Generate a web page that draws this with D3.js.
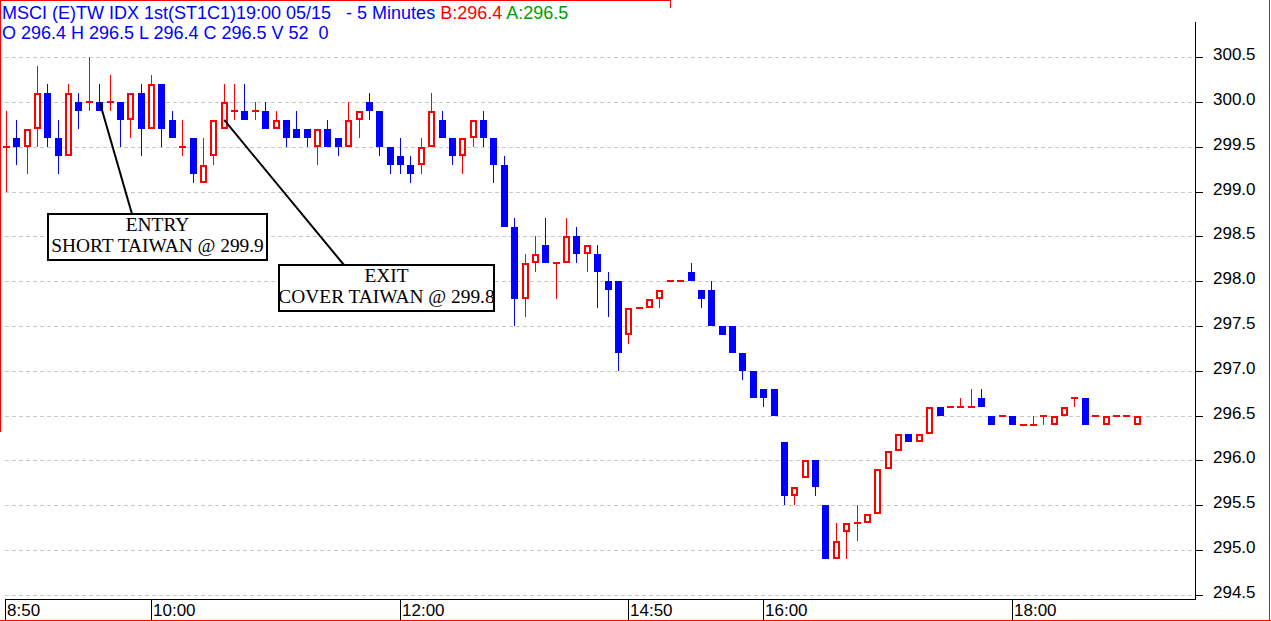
<!DOCTYPE html>
<html><head><meta charset="utf-8">
<script src="https://cdn.jsdelivr.net/npm/d3@7"></script>
<style>html,body{margin:0;padding:0;background:#fff;overflow:hidden}</style>
</head><body>
<svg id="c" width="1271" height="622"></svg>
<script>
// ---- data (5-minute bars, index 0 = 8:50) ----
const opens  = [299.5,299.6,299.5,299.7,300.1,299.6,299.4,300.0,300.0,300.0,300.0,300.0,299.8,300.1,299.7,300.2,299.8,299.5,299.6,299.1,299.4,299.7,299.9,299.9,299.9,299.9,299.7,299.8,299.7,299.7,299.5,299.7,299.6,299.5,299.8,300.0,299.9,299.5,299.4,299.3,299.3,299.5,299.8,299.6,299.4,299.6,299.8,299.6,299.3,298.6,297.8,298.2,298.4,298.2,298.2,298.5,298.3,298.3,298.0,298.0,297.4,297.7,297.7,297.8,298.0,298.0,298.1,297.9,297.9,297.5,297.5,297.2,297.0,296.8,296.8,296.2,295.6,295.8,296.0,295.5,294.9,295.2,295.3,295.3,295.4,295.9,296.1,296.3,296.2,296.3,296.6,296.6,296.6,296.6,296.7,296.5,296.5,296.5,296.4,296.4,296.5,296.4,296.5,296.7,296.7,296.5,296.4,296.5,296.5,296.4];
const highs  = [299.9,299.8,299.7,300.4,300.2,299.8,300.2,300.1,300.5,300.2,300.3,300.0,300.1,300.2,300.3,300.2,299.9,299.8,299.6,299.6,299.8,300.2,300.2,300.2,300.0,300.0,299.9,299.8,299.9,299.7,299.7,299.8,299.6,300.0,299.9,300.1,299.9,299.5,299.6,299.4,299.6,300.1,299.9,299.6,299.6,299.8,299.9,299.6,299.4,298.7,298.3,298.5,298.7,298.2,298.7,298.6,298.4,298.4,298.1,298.0,297.7,297.7,297.8,297.9,298.0,298.0,298.2,297.9,298.0,297.5,297.5,297.2,297.0,296.8,296.8,296.2,295.7,296.0,296.0,295.5,295.3,295.3,295.5,295.4,295.9,296.1,296.3,296.3,296.3,296.6,296.6,296.6,296.7,296.8,296.8,296.5,296.5,296.5,296.4,296.5,296.5,296.5,296.6,296.7,296.7,296.5,296.5,296.5,296.5,296.5];
const lows   = [299.0,299.3,299.2,299.5,299.5,299.2,299.4,299.7,299.9,299.9,299.9,299.5,299.6,299.4,299.7,299.5,299.6,299.4,299.1,299.1,299.3,299.7,299.8,299.8,299.8,299.7,299.7,299.5,299.6,299.5,299.3,299.5,299.4,299.5,299.6,299.8,299.4,299.2,299.2,299.1,299.2,299.5,299.6,299.3,299.2,299.5,299.5,299.1,298.6,297.5,297.6,298.1,298.2,297.8,298.2,298.2,298.1,297.7,297.6,297.0,297.3,297.7,297.7,297.7,298.0,298.0,298.0,297.7,297.5,297.4,297.2,296.9,296.7,296.6,296.5,295.5,295.5,295.8,295.6,294.9,294.9,294.9,295.1,295.3,295.4,295.9,296.1,296.2,296.2,296.3,296.5,296.6,296.6,296.6,296.6,296.4,296.5,296.4,296.4,296.4,296.4,296.4,296.5,296.6,296.4,296.5,296.4,296.5,296.5,296.4];
const closes = [299.5,299.5,299.7,300.1,299.6,299.4,300.1,299.9,300.0,299.9,300.0,299.8,300.1,299.7,300.2,299.7,299.6,299.5,299.2,299.3,299.8,300.0,299.9,299.8,299.9,299.7,299.8,299.6,299.6,299.6,299.7,299.5,299.5,299.8,299.9,299.9,299.5,299.3,299.3,299.2,299.5,299.9,299.6,299.4,299.6,299.8,299.6,299.3,298.6,297.8,298.2,298.3,298.2,298.2,298.5,298.3,298.4,298.1,297.9,297.2,297.7,297.7,297.8,297.9,298.0,298.0,298.0,297.8,297.5,297.4,297.2,297.0,296.7,296.7,296.5,295.6,295.7,296.0,295.7,294.9,295.1,295.3,295.3,295.4,295.9,296.1,296.3,296.2,296.3,296.6,296.5,296.6,296.6,296.6,296.6,296.4,296.5,296.4,296.4,296.4,296.5,296.5,296.6,296.7,296.4,296.5,296.5,296.5,296.5,296.5];
const yTickValues = [294.5,295.0,295.5,296.0,296.5,297.0,297.5,298.0,298.5,299.0,299.5,300.0,300.5];
const xTickIndex  = [0, 14, 38, 60, 73, 97];
const xTickLabels = ["8:50","10:00","12:00","14:50","16:00","18:00"];
const titleMain = "MSCI (E)TW IDX 1st(ST1C1)19:00 05/15   - 5 Minutes ";
const titleBid = "B:296.4";
const titleAsk = "A:296.5";
const titleOHLC = "O 296.4 H 296.5 L 296.4 C 296.5 V 52  0";
const entryNote = {idx: 9, price: 300.0, lines: ["ENTRY", "SHORT TAIWAN @ 299.9"]};
const exitNote  = {idx: 21, price: 299.8, lines: ["EXIT", "COVER TAIWAN @ 299.8"]};

// ---- drawing ----
const svg = d3.select('#c');
const W = 1271, H = 622;
const RED = '#ff0000', BLUE = '#0000ff';
const x = d3.scaleLinear().domain([0, 109]).range([6.3, 1137.2]);
const y = d3.scaleLinear().domain([294.5, 300.5]).range([594.8, 57.2]);
const ry = v => Math.round(y(v));
const axisX = 1195, bottomY = 600;

svg.append('rect').attr('width', W).attr('height', H).attr('fill', '#fff');

// gridlines
svg.append('g').selectAll('line').data(yTickValues).join('line')
  .attr('x1', 5).attr('x2', axisX)
  .attr('y1', d => ry(d) + 0.5).attr('y2', d => ry(d) + 0.5)
  .attr('stroke', '#c8c8c8').attr('stroke-dasharray', '4,3')
  .attr('shape-rendering', 'crispEdges');

// y axis
const yAxis = d3.axisRight(y).tickValues(yTickValues).tickSize(8).tickPadding(10)
  .tickFormat(d3.format('.1f'));
const ga = svg.append('g').attr('transform', `translate(${axisX},0)`).call(yAxis);
ga.select('.domain').remove();
ga.selectAll('.tick').attr('transform', d => `translate(0,${ry(d) + 0.5})`);
ga.selectAll('.tick line').attr('stroke', '#000').attr('shape-rendering', 'crispEdges');
ga.selectAll('.tick text').attr('font-family', 'Liberation Sans, Arial, sans-serif')
  .attr('font-size', 17).attr('fill', '#000').attr('dy', '0.15em');
svg.append('line').attr('x1', axisX + 0.5).attr('x2', axisX + 0.5).attr('y1', 22).attr('y2', bottomY)
  .attr('stroke', '#000').attr('shape-rendering', 'crispEdges');
svg.append('line').attr('x1', 5).attr('x2', axisX + 1).attr('y1', bottomY - 0.5).attr('y2', bottomY - 0.5)
  .attr('stroke', '#000').attr('shape-rendering', 'crispEdges');

// x axis separators + labels
const gx = svg.append('g');
gx.selectAll('line').data(xTickIndex).join('line')
  .attr('x1', d => Math.round(x(d)) - 0.5).attr('x2', d => Math.round(x(d)) - 0.5)
  .attr('y1', bottomY).attr('y2', 620)
  .attr('stroke', '#000').attr('shape-rendering', 'crispEdges');
gx.selectAll('text').data(xTickIndex).join('text')
  .attr('x', d => Math.round(x(d)) + 1).attr('y', 616)
  .attr('font-family', 'Liberation Sans, Arial, sans-serif').attr('font-size', 17)
  .attr('fill', '#000').text((d, i) => xTickLabels[i]);

// candles
const bars = opens.map((o, i) => ({i, o, h: highs[i], l: lows[i], c: closes[i]}));
const gc = svg.append('g').attr('shape-rendering', 'crispEdges');
bars.forEach(b => {
  const left = Math.round(x(b.i) - 3.5);
  const cx = left + 3.5;
  const col = b.c < b.o ? BLUE : RED;
  if (b.h !== b.l) {
    gc.append('line').attr('x1', cx).attr('x2', cx).attr('y1', ry(b.h)).attr('y2', ry(b.l))
      .attr('stroke', col).attr('stroke-width', 1);
  }
  if (b.c > b.o) {
    gc.append('rect').attr('x', left + 1).attr('width', 5)
      .attr('y', ry(b.c) + 1).attr('height', Math.max(0, ry(b.o) - ry(b.c) - 2))
      .attr('fill', '#fff').attr('stroke', RED).attr('stroke-width', 2);
  } else if (b.c < b.o) {
    gc.append('rect').attr('x', left).attr('width', 7)
      .attr('y', ry(b.o)).attr('height', ry(b.c) - ry(b.o)).attr('fill', BLUE);
  } else {
    gc.append('line').attr('x1', left).attr('x2', left + 7)
      .attr('y1', ry(b.o)).attr('y2', ry(b.o)).attr('stroke', RED).attr('stroke-width', 2);
  }
});

// annotations
function note(n, box, lineEnd) {
  svg.append('line').attr('x1', x(n.idx)).attr('y1', y(n.price))
    .attr('x2', lineEnd[0]).attr('y2', lineEnd[1])
    .attr('stroke', '#000').attr('stroke-width', 2);
  svg.append('rect').attr('x', box[0]).attr('y', box[1]).attr('width', box[2]).attr('height', box[3])
    .attr('fill', '#fff').attr('stroke', '#000').attr('stroke-width', 2);
  svg.append('text').attr('x', box[0] + box[2] / 2).attr('y', box[1] + 17)
    .attr('text-anchor', 'middle').attr('font-family', 'Liberation Serif, Times New Roman, serif')
    .attr('font-size', 19.4).attr('fill', '#000').text(n.lines[0]);
  svg.append('text').attr('x', box[0] + box[2] / 2).attr('y', box[1] + 38)
    .attr('text-anchor', 'middle').attr('font-family', 'Liberation Serif, Times New Roman, serif')
    .attr('font-size', 19.4).attr('fill', '#000').text(n.lines[1]);
}
note(entryNote, [48, 214, 219, 46], [132, 214]);
note(exitNote, [279, 265, 215, 46], [344, 265]);

// title
const t1 = svg.append('text').attr('x', 2).attr('y', 19)
  .attr('font-family', 'Liberation Sans, Arial, sans-serif').attr('font-size', 18)
  .style('white-space', 'pre');
t1.append('tspan').attr('fill', BLUE).text(titleMain);
t1.append('tspan').attr('fill', RED).text(titleBid);
t1.append('tspan').attr('fill', BLUE).text(' ');
t1.append('tspan').attr('fill', '#00a000').text(titleAsk);
svg.append('text').attr('x', 2).attr('y', 39)
  .attr('font-family', 'Liberation Sans, Arial, sans-serif').attr('font-size', 18)
  .style('white-space', 'pre').attr('fill', BLUE).text(titleOHLC);

// red frame
const fr = svg.append('g').attr('stroke', RED).attr('shape-rendering', 'crispEdges');
fr.append('line').attr('x1', 0).attr('x2', 671).attr('y1', 0.5).attr('y2', 0.5);
fr.append('line').attr('x1', 670.5).attr('x2', 670.5).attr('y1', 0).attr('y2', 8);
fr.append('line').attr('x1', 0.5).attr('x2', 0.5).attr('y1', 0).attr('y2', 432);
fr.append('line').attr('x1', 1269.5).attr('x2', 1269.5).attr('y1', 0).attr('y2', 621);
fr.append('line').attr('x1', 0).attr('x2', W).attr('y1', 620.5).attr('y2', 620.5);
</script>
</body></html>
